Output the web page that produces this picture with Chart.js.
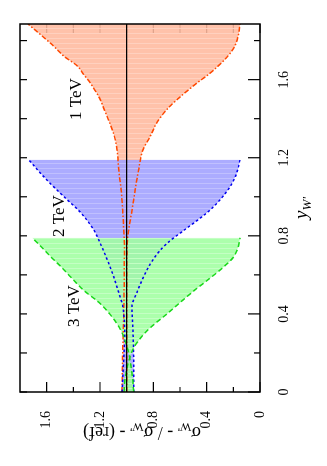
<!DOCTYPE html>
<html>
<head>
<meta charset="utf-8">
<script src="https://cdn.jsdelivr.net/npm/chart.js@4.4.1/dist/chart.umd.min.js"></script>
<style>
  html, body { margin: 0; padding: 0; background: #fff; overflow: hidden; }
  #wrap {
    position: absolute; left: 0; top: 0;
    width: 466px; height: 327px;
    transform-origin: 0 0;
    transform: translateY(466px) rotate(-90deg);
  }
</style>
</head>
<body>
<div id="wrap"><canvas id="ratioChart" width="466" height="327"></canvas></div>
<script>
// Rapidity of the W' and ratio bands for three W' masses
const YW_1TEV = [0, 0.2, 0.4, 0.6, 0.75, 0.83, 0.93, 1.04, 1.14, 1.24, 1.31, 1.38, 1.45, 1.5, 1.58, 1.63, 1.67, 1.72, 1.77, 1.83, 1.885];
const UP_1TEV = [1.035, 1.03, 1.022, 1.018, 1.017, 1.022, 1.03, 1.042, 1.06, 1.072, 1.092, 1.128, 1.17, 1.2, 1.27, 1.326, 1.37, 1.47, 1.545, 1.645, 1.74];
const LO_1TEV = [1.0, 1.0, 1.0, 0.999, 0.997, 0.985, 0.96, 0.935, 0.91, 0.878, 0.823, 0.773, 0.695, 0.618, 0.478, 0.38, 0.314, 0.242, 0.19, 0.162, 0.15];

const YW_2TEV = [0, 0.13, 0.3, 0.44, 0.51, 0.59, 0.68, 0.76, 0.83, 0.92, 0.985, 1.05, 1.12, 1.19];
const UP_2TEV = [1.035, 1.025, 1.015, 1.03, 1.06, 1.097, 1.147, 1.197, 1.247, 1.346, 1.446, 1.546, 1.645, 1.735];
const LO_2TEV = [0.947, 0.947, 0.952, 0.96, 0.923, 0.873, 0.8, 0.7, 0.567, 0.395, 0.299, 0.226, 0.175, 0.15];

const YW_3TEV = [0, 0.08, 0.13, 0.2, 0.25, 0.32, 0.4, 0.46, 0.52, 0.59, 0.64, 0.69, 0.74, 0.79];
const UP_3TEV = [0.947, 0.957, 0.967, 0.985, 1.006, 1.047, 1.127, 1.21, 1.321, 1.421, 1.49, 1.565, 1.635, 1.708];
const LO_3TEV = [1.02, 1.01, 0.995, 0.965, 0.925, 0.838, 0.698, 0.596, 0.493, 0.362, 0.274, 0.2, 0.165, 0.15];

// Reference line
const REF_YW = [0, 1.885];
const REF_RATIO = [1, 1];

// Axes
const X_MIN = 0, X_MAX = 1.885;
const Y_MIN = 0, Y_MAX = 1.8;
const X_TICKS = [0, 0.4, 0.8, 1.2, 1.6];
const X_MINOR = [0.2, 0.6, 1.0, 1.4, 1.8];
const Y_TICKS = [0, 0.4, 0.8, 1.2, 1.6];
const Y_MINOR = [0.2, 0.6, 1.0, 1.4];

// Band labels
const BAND_LABELS = ['1 TeV', '2 TeV', '3 TeV'];
const LABEL_POS = [
    { x: 1.393, y: 1.346 },
    { x: 0.794, y: 1.47 },
    { x: 0.333, y: 1.361 }
];

const SERIF = '"Liberation Serif", "DejaVu Serif", serif';

function pts(xs, ys) {
    return xs.map((x, i) => ({ x: x, y: ys[i] }));
}

// striped fill, like the hatching of the original print
function stripes(base, light) {
    const c = document.createElement('canvas');
    c.width = 5; c.height = 1;
    const g = c.getContext('2d');
    g.fillStyle = base;
    g.fillRect(0, 0, 5, 1);
    g.fillStyle = light;
    g.fillRect(2, 0, 1, 1);
    return g.createPattern(c, 'repeat');
}

function bandLine(xs, ys, color, dash, fillColor) {
    return {
        data: pts(xs, ys),
        borderColor: color,
        borderWidth: 1.5,
        borderDash: dash,
        pointRadius: 0,
        cubicInterpolationMode: 'monotone',
        backgroundColor: fillColor || 'transparent',
        fill: fillColor ? '+1' : false
    };
}

// text pieces: [text, size, shift, italic]
function drawRuns(ctx, runs, cx, baseY) {
    let total = 0;
    runs.forEach(r => {
        ctx.font = (r[3] ? 'italic ' : '') + r[1] + 'px ' + SERIF;
        total += ctx.measureText(r[0]).width;
    });
    let x = cx - total / 2;
    ctx.textAlign = 'left';
    ctx.textBaseline = 'alphabetic';
    runs.forEach(r => {
        ctx.font = (r[3] ? 'italic ' : '') + r[1] + 'px ' + SERIF;
        ctx.fillText(r[0], x, baseY + r[2]);
        x += ctx.measureText(r[0]).width;
    });
}

const frameAndTicks = {
    id: 'frameAndTicks',
    beforeDraw(chart) {
        const { ctx, chartArea: a, scales } = chart;
        ctx.save();
        ctx.strokeStyle = '#000';
        ctx.lineWidth = 1.2;
        ctx.beginPath();
        const tick = (vals, len, lenTop) => {
            vals.forEach(v => {
                const px = scales.x.getPixelForValue(v);
                ctx.moveTo(px, a.bottom); ctx.lineTo(px, a.bottom - len);
                ctx.moveTo(px, a.top); ctx.lineTo(px, a.top + lenTop);
            });
        };
        tick(X_TICKS, 12, 7);
        tick(X_MINOR, 6, 7);
        const ytick = (vals, len, lenRight) => {
            vals.forEach(v => {
                const py = scales.y.getPixelForValue(v);
                ctx.moveTo(a.left, py); ctx.lineTo(a.left + len, py);
                ctx.moveTo(a.right, py); ctx.lineTo(a.right - lenRight, py);
            });
        };
        ytick(Y_TICKS, 10, 9);
        ytick(Y_MINOR, 5, 9);
        ctx.stroke();
        ctx.restore();
    },
    afterDraw(chart) {
        const { ctx, chartArea: a } = chart;
        ctx.save();
        ctx.strokeStyle = '#000';
        ctx.lineWidth = 1.5;
        ctx.strokeRect(a.left, a.top, a.right - a.left, a.bottom - a.top);

        ctx.fillStyle = '#000';
        ctx.font = '17px ' + SERIF;
        ctx.textAlign = 'left';
        ctx.textBaseline = 'alphabetic';
        BAND_LABELS.forEach((t, i) => {
            ctx.fillText(t, chart.scales.x.getPixelForValue(LABEL_POS[i].x),
                chart.scales.y.getPixelForValue(LABEL_POS[i].y));
        });

        // x axis title
        drawRuns(ctx, [['y', 19, 0, true], ["W'", 13, 4, true]], (a.left + a.right) / 2, 307);

        // y axis title
        ctx.translate(39, (a.top + a.bottom) / 2 + 2);
        ctx.rotate(-Math.PI / 2);
        drawRuns(ctx, [
            ['\u03c3', 18, 0], ["W'", 12, 4], [' - / \u03c3', 18, 0], ["W'", 12, 4], [' - (ref)', 18, 0]
        ], 0, 0);
        ctx.restore();
    }
};

function initRatioChart() {
    const ctx = document.getElementById('ratioChart');
    new Chart(ctx, {
        type: 'line',
        data: {
            datasets: [
                {
                    data: pts(REF_YW, REF_RATIO),
                    borderColor: '#000',
                    borderWidth: 1.3,
                    pointRadius: 0,
                    fill: false
                },
                bandLine(YW_3TEV, UP_3TEV, '#18d818', [5, 3], stripes('rgba(160,255,160,0.88)', 'rgba(200,255,200,0.88)')),
                bandLine(YW_3TEV, LO_3TEV, '#18d818', [5, 3]),
                bandLine(YW_2TEV, UP_2TEV, '#0000f0', [2.5, 2.5], stripes('rgba(160,160,255,0.88)', 'rgba(196,196,255,0.88)')),
                bandLine(YW_2TEV, LO_2TEV, '#0000f0', [2.5, 2.5]),
                bandLine(YW_1TEV, UP_1TEV, '#ff4800', [5, 2, 1.5, 2], stripes('rgba(255,185,158,0.88)', 'rgba(255,212,195,0.88)')),
                bandLine(YW_1TEV, LO_1TEV, '#ff4800', [5, 2, 1.5, 2])
            ]
        },
        options: {
            responsive: false,
            animation: false,
            devicePixelRatio: 1,
            layout: { padding: { top: 20, right: 24, left: 0, bottom: 0 } },
            plugins: {
                legend: { display: false },
                tooltip: { enabled: false },
                filler: { drawTime: 'beforeDatasetsDraw' }
            },
            scales: {
                x: {
                    type: 'linear',
                    min: X_MIN,
                    max: X_MAX,
                    grid: { display: false },
                    border: { display: false },
                    afterBuildTicks: s => { s.ticks = X_TICKS.map(v => ({ value: v })); },
                    afterFit: s => { s.height = 67; },
                    ticks: {
                        padding: 8,
                        maxRotation: 0,
                        color: '#000',
                        font: { family: SERIF, size: 14 },
                        callback: v => (v === 0 ? '0' : v.toFixed(1))
                    }
                },
                y: {
                    type: 'linear',
                    min: Y_MIN,
                    max: Y_MAX,
                    grid: { display: false },
                    border: { display: false },
                    afterBuildTicks: s => { s.ticks = Y_TICKS.map(v => ({ value: v })); },
                    afterFit: s => { s.width = 74; },
                    ticks: {
                        padding: 11,
                        color: '#000',
                        font: { family: SERIF, size: 14 },
                        callback: v => (v === 0 ? '0' : v.toFixed(1))
                    }
                }
            }
        },
        plugins: [frameAndTicks]
    });
}

initRatioChart();
</script>
</body>
</html>
